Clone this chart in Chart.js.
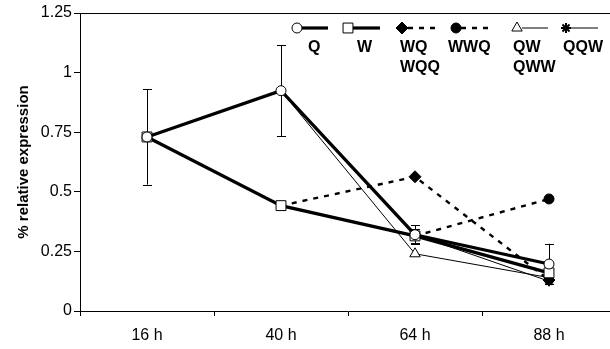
<!DOCTYPE html>
<html>
<head>
<meta charset="utf-8">
<script src="https://cdn.jsdelivr.net/npm/chart.js@4.4.1/dist/chart.umd.min.js"></script>
<style>
  html, body { margin: 0; padding: 0; background: #fff; overflow: hidden; width: 610px; height: 349px; }
  canvas { display: block; }
</style>
</head>
<body>
<canvas id="exprChart" width="624" height="349"></canvas>
<script>
// values
const timeLabels = ['16 h', '40 h', '64 h', '88 h'];
const yTicks = [0, 0.25, 0.5, 0.75, 1, 1.25];

const qValues   = [0.73, 0.924, 0.32, 0.197];
const qErrors   = [0.2, 0.19, 0.04, 0.085];
const wValues   = [0.73, 0.442, 0.315, 0.16];
const wErrors   = [0, 0, 0.03, 0.02];
const wqValues  = [null, 0.442, 0.563, 0.13];
const wwqValues = [null, null, 0.315, 0.47];
const qwValues  = [null, 0.924, 0.24, 0.14];
const qqwValues = [null, null, 0.32, 0.125];

const legendText = {
  Q: ['Q'], W: ['W'], WQ: ['WQ', 'WQQ'], WWQ: ['WWQ'], QW: ['QW', 'QWW'], QQW: ['QQW']
};

(function() {
  const el = document.getElementById('exprChart');
  if (!el || typeof Chart === 'undefined') return;

  // error bars under the markers
  const errorBars = {
    id: 'errorBars',
    beforeDatasetsDraw(chart) {
      const ctx = chart.ctx;
      const x = chart.scales.x, y = chart.scales.y;
      ctx.save();
      ctx.strokeStyle = '#000';
      ctx.lineWidth = 1;
      chart.data.datasets.forEach((ds) => {
        if (!ds.errors) return;
        ds.data.forEach((v, i) => {
          const e = ds.errors[i];
          if (v == null || !e) return;
          const px = Math.round(x.getPixelForValue(i)) + 0.5;
          const top = y.getPixelForValue(v + e), bot = y.getPixelForValue(v - e);
          ctx.beginPath();
          ctx.moveTo(px, top); ctx.lineTo(px, bot);
          ctx.moveTo(px - 4.5, Math.round(top) + 0.5); ctx.lineTo(px + 4.5, Math.round(top) + 0.5);
          ctx.moveTo(px - 4.5, Math.round(bot) + 0.5); ctx.lineTo(px + 4.5, Math.round(bot) + 0.5);
          ctx.stroke();
        });
      });
      ctx.restore();
    }
  };

  // top frame line + legend drawn inside the plot area
  const legendSpots = {
    Q:   { marker: 297, line: [301, 328], text: 308 },
    W:   { marker: 348, line: [353, 380], text: 357 },
    WQ:  { marker: 402, line: [408, 437], text: 400 },
    WWQ: { marker: 456, line: [461, 492], text: 448 },
    QW:  { marker: 517, line: [522, 548], text: 513 },
    QQW: { marker: 566, line: [571, 598], text: 563 }
  };

  const frameAndLegend = {
    id: 'frameAndLegend',
    afterDraw(chart) {
      const ctx = chart.ctx;
      const area = chart.chartArea;
      ctx.save();
      ctx.strokeStyle = '#000';
      ctx.lineWidth = 1;
      ctx.beginPath();
      ctx.moveTo(area.left, Math.round(area.top) + 0.5);
      ctx.lineTo(area.right, Math.round(area.top) + 0.5);
      ctx.stroke();

      const ly = 28;
      chart.data.datasets.forEach((ds) => {
        const spot = legendSpots[ds.label];
        if (!spot) return;
        ctx.save();
        ctx.strokeStyle = '#000';
        ctx.lineWidth = ds.borderWidth;
        ctx.setLineDash(ds.borderDash || []);
        ctx.beginPath();
        ctx.moveTo(spot.line[0], ly); ctx.lineTo(spot.line[1], ly);
        ctx.stroke();
        ctx.setLineDash([]);
        ctx.fillStyle = ds.pointBackgroundColor;
        ctx.strokeStyle = '#000';
        ctx.lineWidth = ds.pointBorderWidth;
        Chart.helpers.drawPoint(ctx, {
          pointStyle: ds.pointStyle, radius: ds.legendRadius, rotation: 0, borderWidth: ds.pointBorderWidth
        }, spot.marker, ly);
        ctx.restore();

        ctx.fillStyle = '#000';
        ctx.font = 'bold 16px "Liberation Sans", Arial, sans-serif';
        ctx.textAlign = 'left';
        ctx.textBaseline = 'middle';
        legendText[ds.label].forEach((t, row) => {
          ctx.fillText(t, spot.text, 48 + row * 20);
        });
      });
      ctx.restore();
    }
  };

  new Chart(el.getContext('2d'), {
    type: 'line',
    data: {
      labels: timeLabels,
      datasets: [
        { label: 'Q', data: qValues, errors: qErrors, borderColor: '#000', borderWidth: 3.2,
          pointStyle: 'circle', pointRadius: 5, legendRadius: 5, pointBackgroundColor: '#fff',
          pointBorderColor: '#000', pointBorderWidth: 1 },
        { label: 'W', data: wValues, errors: wErrors, borderColor: '#000', borderWidth: 3.2,
          pointStyle: 'rect', pointRadius: 7, legendRadius: 7, pointBackgroundColor: '#fff',
          pointBorderColor: '#000', pointBorderWidth: 1 },
        { label: 'WQ', data: wqValues, borderColor: '#000', borderWidth: 2.4, borderDash: [5, 6],
          pointStyle: 'rectRot', pointRadius: [0, 0, 6, 6], legendRadius: 6, pointBackgroundColor: '#000',
          pointBorderColor: '#000', pointBorderWidth: 1 },
        { label: 'WWQ', data: wwqValues, borderColor: '#000', borderWidth: 2.4, borderDash: [5, 6],
          pointStyle: 'circle', pointRadius: [0, 0, 0, 5], legendRadius: 5, pointBackgroundColor: '#000',
          pointBorderColor: '#000', pointBorderWidth: 1 },
        { label: 'QW', data: qwValues, borderColor: '#000', borderWidth: 1,
          pointStyle: 'triangle', pointRadius: [0, 0, 6, 6], legendRadius: 6, pointBackgroundColor: '#fff',
          pointBorderColor: '#000', pointBorderWidth: 1 },
        { label: 'QQW', data: qqwValues, borderColor: '#000', borderWidth: 1,
          pointStyle: 'star', pointRadius: [0, 0, 0, 5], legendRadius: 5, pointBackgroundColor: '#000',
          pointBorderColor: '#000', pointBorderWidth: 2 }
      ]
    },
    options: {
      responsive: false,
      animation: false,
      devicePixelRatio: 1,
      spanGaps: false,
      layout: { padding: { top: 13, right: 8, bottom: 0, left: 0 } },
      plugins: { legend: { display: false }, tooltip: { enabled: false } },
      elements: { line: { tension: 0 } },
      scales: {
        x: {
          type: 'category',
          offset: true,
          afterFit(scale) { scale.height = 38; },
          grid: { display: true, drawOnChartArea: false, drawTicks: true, tickLength: 5, offset: true, color: '#000' },
          border: { display: true, color: '#000', width: 1 },
          ticks: { color: '#000', padding: 10, font: { family: '"Liberation Sans", Arial, sans-serif', size: 16 } }
        },
        y: {
          min: yTicks[0],
          max: yTicks[yTicks.length - 1],
          afterFit(scale) { scale.width = 80; },
          afterBuildTicks(scale) { scale.ticks = yTicks.map(v => ({ value: v })); },
          grid: { display: true, drawOnChartArea: false, drawTicks: true, tickLength: 6, color: '#000' },
          border: { display: true, color: '#000', width: 1 },
          ticks: { color: '#000', padding: 2, font: { family: '"Liberation Sans", Arial, sans-serif', size: 16 },
            callback: (v) => String(v) },
          title: { display: true, text: '% relative expression', color: '#000',
            padding: { top: 15, bottom: 0 },
            font: { family: '"Liberation Sans", Arial, sans-serif', size: 15, weight: 'bold' } }
        }
      }
    },
    plugins: [errorBars, frameAndLegend]
  });
})();
</script>
</body>
</html>
